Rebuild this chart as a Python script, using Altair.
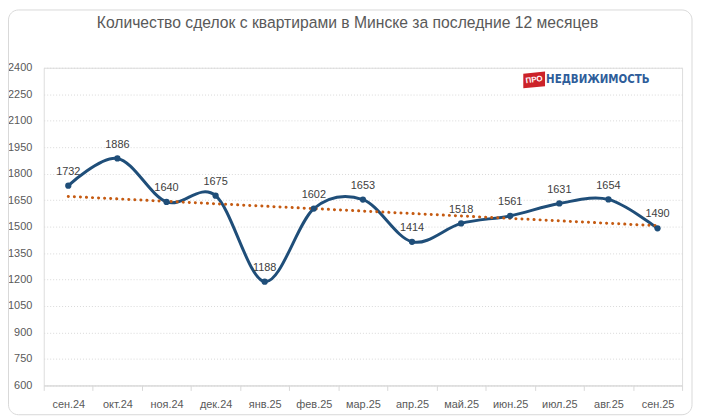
import altair as alt
import pandas as pd

months = ["сен.24", "окт.24", "ноя.24", "дек.24", "янв.25", "фев.25", "мар.25",
          "апр.25", "май.25", "июн.25", "июл.25", "авг.25", "сен.25"]
deals = [1732, 1886, 1640, 1675, 1188, 1602, 1653, 1414, 1518, 1561, 1631, 1654, 1490]
y_ticks = list(range(600, 2401, 150))
title_text = ["Количество сделок с квартирами в Минске за последние 12 месяцев"]
logo_badge = ["ПРО"]
logo_word = ["НЕДВИЖИМОСТЬ"]

df = pd.DataFrame({"month": months, "idx": list(range(len(months))), "deals": deals})

W, H = 643, 320
FONT = "Liberation Sans"

xenc = alt.X("month:N", sort=months,
             scale=alt.Scale(type="band", paddingInner=0, paddingOuter=0),
             axis=alt.Axis(title=None, labelAngle=0, tickBand="extent", ticks=True,
                           tickSize=5, tickColor="#d9d9d9", domainColor="#d9d9d9",
                           labelPadding=8, labelFont=FONT, labelFontSize=11,
                           labelColor="#595959", grid=False))
yenc = alt.Y("deals:Q",
             scale=alt.Scale(domain=[600, 2400], nice=False, zero=False),
             axis=alt.Axis(title=None, values=y_ticks, format="d", labelOverlap=False,
                           tickCount=13, domain=False, ticks=False,
                           labelPadding=12, labelFont=FONT, labelFontSize=11,
                           labelColor="#595959", grid=True, gridColor="#d9d9d9",
                           gridDash=[1, 2]))

base = alt.Chart(df)

line = base.mark_line(interpolate="cardinal", tension=0, color="#1f4e79",
                      strokeWidth=3).encode(x=xenc, y=yenc)
pts = base.mark_circle(size=40, color="#1f4e79", opacity=1).encode(x=xenc, y=yenc)
labels = base.mark_text(dy=-14, fontSize=11, font=FONT, color="#404040").encode(
    x=xenc, y=yenc, text="deals:Q")

month_arr = "[" + ",".join("'" + m + "'" for m in months) + "]"
trend = base.transform_regression("idx", "deals").transform_calculate(
    month=month_arr + "[round(datum.idx)]"
).mark_line(color="#c55a11", strokeWidth=3, strokeDash=[0.1, 6],
            strokeCap="round").encode(x=xenc, y=yenc)

one = pd.DataFrame({"k": [0]})
border = alt.Chart(one).mark_rect(fillOpacity=0, stroke="#d9d9d9", strokeWidth=1,
                                  cornerRadius=10).encode(
    x=alt.value(-35.5), x2=alt.value(653), y=alt.value(-58.2), y2=alt.value(349.5))

title = alt.Chart(pd.DataFrame({"t": title_text})).mark_text(
    fontSize=15.8, font=FONT, color="#595959", baseline="middle", align="center"
).encode(x=alt.value(306), y=alt.value(-44.7), text="t:N")

badge_box = alt.Chart(one).mark_point(
    shape="M-1,-0.6L1,-0.8L1,0.55L-1,0.75Z", filled=True, color="#cc2229",
    opacity=1, size=480).encode(x=alt.value(494), y=alt.value(12.5))
badge_txt = alt.Chart(pd.DataFrame({"t": logo_badge})).mark_text(
    fontSize=8, font=FONT, fontWeight="bold", color="white", angle=352,
    baseline="middle", align="center").encode(x=alt.value(494), y=alt.value(12.5), text="t:N")
word = alt.Chart(pd.DataFrame({"t": logo_word})).mark_text(
    fontSize=11.5, font="DejaVu Sans Condensed", fontWeight="bold", color="#2e5d9a",
    baseline="middle", align="left").encode(x=alt.value(506), y=alt.value(12), text="t:N")

chart = alt.layer(border, title, line, trend, pts, labels, badge_box, badge_txt, word).properties(
    width=W, height=H,
    autosize=alt.AutoSizeParams(type="none"),
    padding={"left": 36, "top": 58.7, "right": 11, "bottom": 31.3},
).configure_view(stroke=None).configure(background="white")

chart.save("out.html", embed_options={"renderer": "svg", "actions": False})
